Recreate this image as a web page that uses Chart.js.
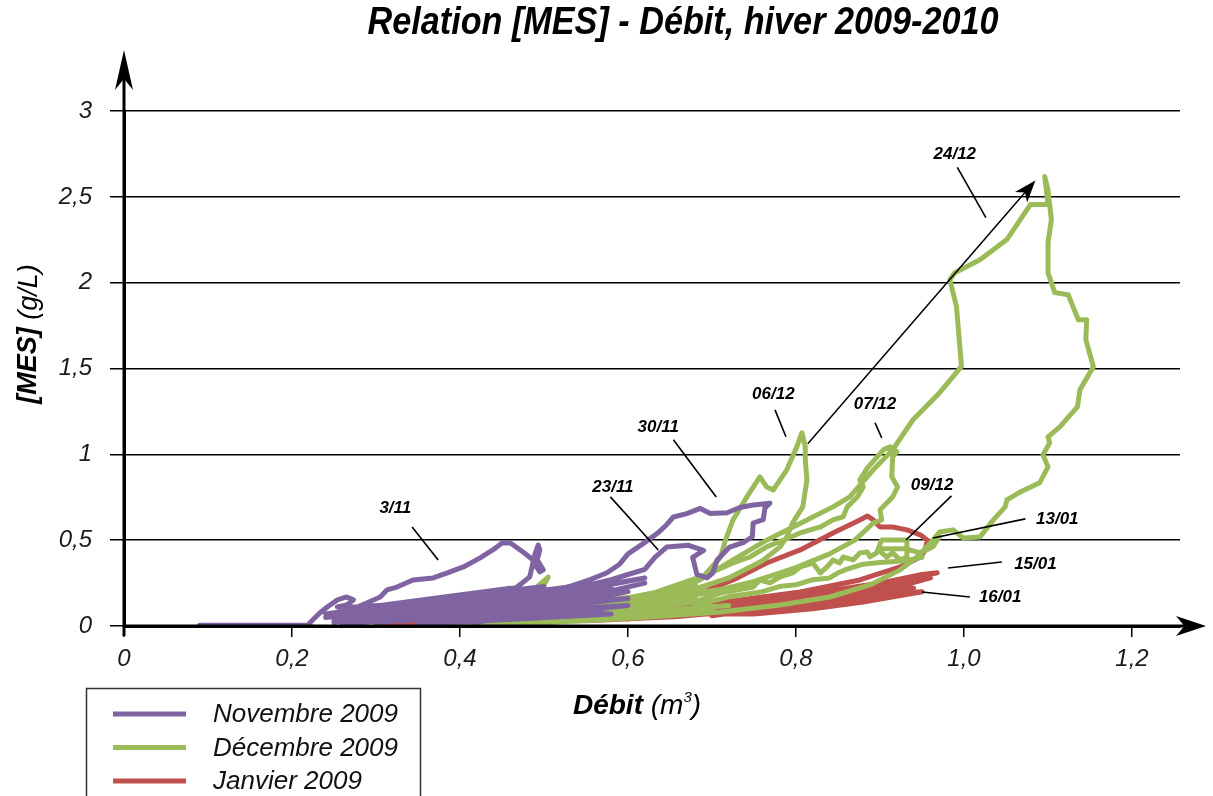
<!DOCTYPE html>
<html><head><meta charset="utf-8">
<script src="https://cdn.jsdelivr.net/npm/chart.js@4.4.0/dist/chart.umd.min.js"></script>
<style>html,body{margin:0;padding:0;background:#fff;overflow:hidden}</style>
</head><body>
<canvas id="c" width="1213" height="796"></canvas>
<script>
// ---------- tick labels ----------
const xTickValues = [0, 0.2, 0.4, 0.6, 0.8, 1.0, 1.2];
const xTickLabels = ['0', '0,2', '0,4', '0,6', '0,8', '1,0', '1,2'];
const yTickValues = [0, 0.5, 1, 1.5, 2, 2.5, 3];
const yTickLabels = ['0', '0,5', '1', '1,5', '2', '2,5', '3'];

// ---------- series ----------
const seriesNames = ['Novembre 2009', 'Décembre 2009', 'Janvier 2009'];
const seriesColors = ['#8064a2', '#9bbb59', '#c0504d'];

// Novembre 2009 : [débit, MES]
const novBase = [[0.09,0.004],[0.16,0.004],[0.222,0.006]];
const nov03 = [[0.221,0.017],[0.233,0.076],[0.242,0.111],[0.254,0.152],[0.265,0.169],[0.273,0.152],[0.265,0.122],[0.254,0.111],[0.269,0.093],[0.289,0.134],[0.305,0.169],[0.313,0.21],[0.325,0.227],[0.344,0.268],[0.368,0.28],[0.385,0.309],[0.404,0.344],[0.424,0.397],[0.439,0.443],[0.45,0.484],[0.46,0.484],[0.475,0.431],[0.487,0.385],[0.493,0.472],[0.495,0.443],[0.492,0.385],[0.499,0.327],[0.495,0.315],[0.487,0.373],[0.483,0.286],[0.468,0.227],[0.43,0.17],[0.38,0.12],[0.3,0.07],[0.25,0.03]];
const novBand = [[0.25,0.02],[0.5,0.2],[0.27,0.05],[0.52,0.16],[0.26,0.01],[0.55,0.13],[0.28,0.06],[0.56,0.18],[0.3,0.02],[0.5,0.1],[0.29,0.08],[0.53,0.22],[0.33,0.03],[0.57,0.1],[0.32,0.1],[0.48,0.2],[0.35,0.01],[0.58,0.07],[0.36,0.12],[0.55,0.24],[0.4,0.02],[0.6,0.12],[0.3,0.04],[0.45,0.17],[0.24,0.05],[0.38,0.14],[0.27,0.11],[0.42,0.02],[0.6,0.2],[0.45,0.06],[0.62,0.25]];
const novBand2 = [[0.24,0.07],[0.46,0.22],[0.26,0.09],[0.5,0.23],[0.31,0.12],[0.44,0.18],[0.28,0.1],[0.52,0.18],[0.34,0.05],[0.54,0.08],[0.37,0.04],[0.6,0.16],[0.4,0.08],[0.58,0.22],[0.43,0.12],[0.62,0.28],[0.47,0.14],[0.33,0.07],[0.25,0.06]];
const nov23_30 = [[0.45,0.15],[0.5,0.19],[0.53,0.23],[0.555,0.27],[0.575,0.31],[0.59,0.36],[0.6,0.42],[0.618,0.48],[0.635,0.54],[0.646,0.59],[0.654,0.635],[0.67,0.655],[0.686,0.685],[0.698,0.655],[0.718,0.66],[0.733,0.69],[0.749,0.705],[0.769,0.715],[0.763,0.688],[0.761,0.62],[0.749,0.6],[0.748,0.52],[0.737,0.485],[0.721,0.46],[0.706,0.385],[0.701,0.31],[0.694,0.28],[0.682,0.3],[0.677,0.4],[0.69,0.44],[0.672,0.47],[0.646,0.46],[0.632,0.4],[0.62,0.33],[0.6,0.3],[0.58,0.27],[0.555,0.24],[0.53,0.22],[0.5,0.18],[0.47,0.16]];

// Décembre 2009
const decBand = [[0.36,0.0],[0.62,0.1],[0.4,0.005],[0.66,0.15],[0.45,0.01],[0.7,0.2],[0.5,0.02],[0.72,0.12],[0.42,0.02],[0.6,0.14],[0.48,0.05],[0.68,0.24],[0.55,0.04],[0.7,0.1],[0.38,0.0],[0.56,0.08],[0.47,0.09],[0.64,0.19],[0.52,0.11]];
const decBand2 = [[0.4,0.0],[0.58,0.05],[0.44,0.02],[0.64,0.1],[0.5,0.04],[0.68,0.17],[0.53,0.09],[0.72,0.22],[0.58,0.12],[0.7,0.15],[0.46,0.03],[0.66,0.08],[0.52,0.03],[0.62,0.06],[0.48,0.01]];
const decSpike = [[0.47,0.17],[0.49,0.22],[0.505,0.285],[0.5,0.24],[0.48,0.2]];
const dec06 = [[0.55,0.07],[0.6,0.11],[0.65,0.19],[0.69,0.29],[0.71,0.4],[0.716,0.5],[0.725,0.618],[0.74,0.74],[0.757,0.869],[0.765,0.81],[0.773,0.793],[0.789,0.91],[0.801,1.044],[0.807,1.125],[0.811,1.044],[0.811,0.968],[0.813,0.851],[0.808,0.694],[0.796,0.601],[0.789,0.519],[0.781,0.461],[0.76,0.38],[0.72,0.28],[0.67,0.2],[0.6,0.12],[0.52,0.06]];
const dec07 = [[0.6,0.14],[0.686,0.286],[0.706,0.327],[0.725,0.367],[0.745,0.402],[0.765,0.461],[0.785,0.501],[0.805,0.542],[0.829,0.577],[0.844,0.618],[0.856,0.636],[0.861,0.694],[0.873,0.752],[0.88,0.81],[0.876,0.851],[0.885,0.921],[0.904,1.026],[0.912,1.044],[0.92,1.015],[0.915,0.985],[0.914,0.869],[0.921,0.81],[0.915,0.752],[0.908,0.717],[0.9,0.676],[0.902,0.618],[0.892,0.6],[0.87,0.5],[0.84,0.42],[0.8,0.34],[0.75,0.26],[0.7,0.2],[0.62,0.12]];
const dec24 = [[0.45,0.01],[0.55,0.06],[0.62,0.13],[0.686,0.27],[0.725,0.385],[0.765,0.5],[0.813,0.618],[0.844,0.694],[0.864,0.752],[0.892,0.91],[0.915,1.026],[0.939,1.2],[0.971,1.359],[0.997,1.512],[0.991,1.862],[0.983,2.017],[0.989,2.058],[1.019,2.134],[1.051,2.251],[1.079,2.455],[1.1,2.455],[1.096,2.618],[1.1,2.54],[1.104,2.367],[1.1,2.233],[1.1,2.058],[1.108,1.942],[1.124,1.93],[1.136,1.784],[1.146,1.784],[1.145,1.668],[1.154,1.51],[1.138,1.376],[1.135,1.277],[1.114,1.16],[1.1,1.102],[1.102,1.067],[1.094,0.997],[1.1,0.927],[1.09,0.834],[1.067,0.781],[1.051,0.735],[1.049,0.694],[1.035,0.618],[1.019,0.519],[0.999,0.513],[0.987,0.56],[0.971,0.548],[0.96,0.484],[0.944,0.402],[0.924,0.327],[0.888,0.239],[0.84,0.169],[0.781,0.122],[0.71,0.082],[0.626,0.052],[0.543,0.029],[0.448,0.012]];
const dec09 = [[0.62,0.1],[0.686,0.152],[0.71,0.192],[0.749,0.227],[0.757,0.268],[0.769,0.251],[0.781,0.286],[0.796,0.309],[0.805,0.344],[0.82,0.367],[0.829,0.309],[0.837,0.344],[0.844,0.385],[0.852,0.367],[0.856,0.402],[0.868,0.385],[0.876,0.426],[0.885,0.431],[0.888,0.402],[0.896,0.426],[0.902,0.501],[0.932,0.501],[0.932,0.402],[0.924,0.385],[0.915,0.426],[0.908,0.402],[0.902,0.426],[0.9,0.45],[0.93,0.45],[0.948,0.426],[0.963,0.461],[0.971,0.52]];
const dec09b = [[0.68,0.12],[0.72,0.17],[0.76,0.2],[0.78,0.23],[0.8,0.24],[0.82,0.27],[0.84,0.28],[0.85,0.31],[0.86,0.33],[0.88,0.36],[0.9,0.37],[0.93,0.38],[0.95,0.4]];

// Janvier 2009
const janLow = [[0.3,0.0],[0.42,0.05],[0.47,0.17],[0.5,0.19],[0.45,0.1],[0.36,0.02]];
const janLoop = [[0.45,0.02],[0.54,0.035],[0.62,0.11],[0.686,0.192],[0.725,0.268],[0.765,0.367],[0.805,0.443],[0.844,0.542],[0.876,0.618],[0.885,0.641],[0.892,0.618],[0.9,0.577],[0.915,0.577],[0.932,0.56],[0.948,0.531],[0.956,0.501],[0.954,0.443],[0.948,0.402],[0.924,0.344],[0.876,0.268],[0.805,0.198],[0.733,0.152],[0.662,0.111],[0.567,0.076],[0.471,0.047],[0.364,0.023]];
const janBand = [[0.6,0.04],[0.7,0.1],[0.8,0.16],[0.88,0.22],[0.94,0.28],[0.968,0.31],[0.95,0.3],[0.9,0.25],[0.82,0.19],[0.74,0.13],[0.68,0.09],[0.72,0.08],[0.8,0.12],[0.87,0.18],[0.93,0.24],[0.96,0.28],[0.92,0.23],[0.85,0.16],[0.78,0.11],[0.7,0.07],[0.75,0.07],[0.82,0.1],[0.88,0.14],[0.95,0.2],[0.9,0.18],[0.83,0.14],[0.76,0.1],[0.66,0.055],[0.55,0.03]];
const janBand2 = [[0.7,0.06],[0.8,0.13],[0.9,0.2],[0.96,0.3],[0.91,0.22],[0.83,0.17],[0.73,0.1],[0.79,0.09],[0.86,0.15],[0.94,0.22],[0.89,0.21],[0.8,0.15],[0.72,0.11],[0.64,0.06]];

// ---------- annotations (data coordinates) ----------
const notes = [
  {t:'3/11',  x:0.323, y:0.688, a:[0.343,0.577], b:[0.374,0.385]},
  {t:'23/11', x:0.582, y:0.81,  a:[0.579,0.752], b:[0.636,0.443]},
  {t:'30/11', x:0.636, y:1.155, a:[0.654,1.085], b:[0.705,0.752]},
  {t:'06/12', x:0.773, y:1.347, a:[0.775,1.259], b:[0.788,1.102]},
  {t:'07/12', x:0.894, y:1.289, a:[0.894,1.184], b:[0.902,1.096]},
  {t:'24/12', x:0.989, y:2.746, a:[0.992,2.671], b:[1.026,2.379]},
  {t:'09/12', x:0.962, y:0.822, a:[0.985,0.758], b:[0.931,0.501]},
  {t:'13/01', x:1.111, y:0.624, a:[1.073,0.624], b:[0.963,0.513]},
  {t:'15/01', x:1.085, y:0.362, a:[1.045,0.373], b:[0.981,0.338]},
  {t:'16/01', x:1.043, y:0.169, a:[1.007,0.169], b:[0.95,0.198]}
];
const bigArrow = {from:[0.814,1.061], to:[1.085,2.595]};

function joinPaths(paths) {
  const out = [];
  paths.forEach((p, i) => {
    if (i) out.push({x: null, y: null});
    p.forEach(([x, y]) => out.push({x, y}));
  });
  return out;
}

const FONT = "'Liberation Sans', Arial, sans-serif";

function arrowHead(ctx, tx, ty, ang, len, hw) {
  ctx.save();
  ctx.translate(tx, ty);
  ctx.rotate(ang);
  ctx.beginPath();
  ctx.moveTo(0, 0);
  ctx.lineTo(-len, hw);
  ctx.lineTo(-len * 0.72, 0);
  ctx.lineTo(-len, -hw);
  ctx.closePath();
  ctx.fill();
  ctx.restore();
}

const decorPlugin = {
  id: 'decor',
  afterDraw(chart) {
    const ctx = chart.ctx;
    const xs = chart.scales.x, ys = chart.scales.y;
    const ca = chart.chartArea;
    ctx.save();
    ctx.fillStyle = '#000';
    ctx.strokeStyle = '#000';

    // axis extensions + arrows
    ctx.lineWidth = 3;
    ctx.beginPath();
    ctx.moveTo(ca.left, ca.bottom + 10); ctx.lineTo(ca.left, 70);
    ctx.moveTo(ca.left - 1, ca.bottom); ctx.lineTo(1190, ca.bottom);
    ctx.stroke();
    arrowHead(ctx, ca.left, 50, -Math.PI / 2, 40, 9);
    arrowHead(ctx, 1206, ca.bottom, 0, 30, 10);

    // annotations
    ctx.lineWidth = 1.6;
    ctx.font = "italic bold 17px " + FONT;
    ctx.textAlign = 'center';
    ctx.textBaseline = 'middle';
    notes.forEach(n => {
      ctx.beginPath();
      ctx.moveTo(xs.getPixelForValue(n.a[0]), ys.getPixelForValue(n.a[1]));
      ctx.lineTo(xs.getPixelForValue(n.b[0]), ys.getPixelForValue(n.b[1]));
      ctx.stroke();
      ctx.fillText(n.t, xs.getPixelForValue(n.x), ys.getPixelForValue(n.y));
    });
    const ax0 = xs.getPixelForValue(bigArrow.from[0]), ay0 = ys.getPixelForValue(bigArrow.from[1]);
    const ax1 = xs.getPixelForValue(bigArrow.to[0]), ay1 = ys.getPixelForValue(bigArrow.to[1]);
    const ang = Math.atan2(ay1 - ay0, ax1 - ax0);
    ctx.lineWidth = 1.5;
    ctx.beginPath();
    ctx.moveTo(ax0, ay0);
    ctx.lineTo(ax1 - Math.cos(ang) * 12, ay1 - Math.sin(ang) * 12);
    ctx.stroke();
    arrowHead(ctx, ax1, ay1, ang, 22, 8);

    // title
    ctx.save();
    ctx.translate(683, 24);
    ctx.scale(0.9, 1);
    ctx.font = "italic bold 38px " + FONT;
    ctx.fillStyle = '#000';
    ctx.textAlign = 'center';
    ctx.textBaseline = 'middle';
    ctx.fillText('Relation [MES] - Débit, hiver 2009-2010', 0, 0);
    ctx.restore();

    // y axis title
    ctx.save();
    ctx.translate(29, 334);
    ctx.rotate(-Math.PI / 2);
    ctx.textBaseline = 'middle';
    ctx.textAlign = 'left';
    const fb = "italic bold 27px " + FONT, fi = "italic 27px " + FONT;
    ctx.font = fb; const w1 = ctx.measureText('[MES]').width;
    ctx.font = fi; const w2 = ctx.measureText(' (g/L)').width;
    let sx = -(w1 + w2) / 2;
    ctx.font = fb; ctx.fillText('[MES]', sx, 0);
    ctx.font = fi; ctx.fillText(' (g/L)', sx + w1, 0);
    ctx.restore();

    // x axis title
    ctx.save();
    ctx.textBaseline = 'middle';
    ctx.textAlign = 'left';
    const fb2 = "italic bold 28px " + FONT, fi2 = "italic 28px " + FONT;
    ctx.font = fb2; const d1 = ctx.measureText('Débit').width;
    ctx.font = fi2; const d2 = ctx.measureText(' (m').width;
    ctx.font = "italic 15px " + FONT; const d3 = ctx.measureText('3').width;
    ctx.font = fi2; const d4 = ctx.measureText(')').width;
    let px = 637 - (d1 + d2 + d3 + d4) / 2;
    const py = 706;
    ctx.font = fb2; ctx.fillText('Débit', px, py); px += d1;
    ctx.font = fi2; ctx.fillText(' (m', px, py); px += d2;
    ctx.font = "italic 15px " + FONT; ctx.fillText('3', px, py - 8); px += d3;
    ctx.font = fi2; ctx.fillText(')', px, py);
    ctx.restore();

    // legend
    ctx.lineWidth = 1.5;
    ctx.strokeStyle = '#333';
    ctx.strokeRect(86.5, 688.5, 334, 140);
    ctx.font = "italic 26px " + FONT;
    ctx.textAlign = 'left';
    ctx.textBaseline = 'middle';
    chart.data.datasets.forEach((ds, i) => {
      const ly = 714 + i * 33.5;
      ctx.strokeStyle = ds.borderColor;
      ctx.lineWidth = 5;
      ctx.beginPath(); ctx.moveTo(113, ly); ctx.lineTo(186, ly); ctx.stroke();
      ctx.fillStyle = '#111';
      ctx.fillText(ds.label, 213, ly + 1);
    });
    ctx.restore();
  }
};

new Chart(document.getElementById('c'), {
  type: 'scatter',
  data: {
    datasets: [
      {label: seriesNames[0], data: joinPaths([novBase, nov03, novBand, novBand2, nov23_30]), borderColor: seriesColors[0], backgroundColor: seriesColors[0]},
      {label: seriesNames[1], data: joinPaths([decBand, decBand2, decSpike, dec06, dec07, dec09, dec09b, dec24]), borderColor: seriesColors[1], backgroundColor: seriesColors[1]},
      {label: seriesNames[2], data: joinPaths([janLow, janLoop, janBand, janBand2]), borderColor: seriesColors[2], backgroundColor: seriesColors[2]}
    ].map(d => Object.assign(d, {showLine: true, spanGaps: false, pointRadius: 0, borderWidth: 5, tension: 0, borderJoinStyle: 'round', borderCapStyle: 'round'}))
  },
  options: {
    responsive: false,
    animation: false,
    devicePixelRatio: 1,
    layout: {padding: {top: 111, right: 33, left: 0, bottom: 0}},
    plugins: {legend: {display: false}, tooltip: {enabled: false}, title: {display: false}},
    scales: {
      x: {
        type: 'linear', min: 0, max: 1.2571, z: 1,
        afterFit(s) { s.height = 170; },
        afterBuildTicks(s) { s.ticks = xTickValues.map(v => ({value: v})); },
        ticks: {callback: (v, i) => xTickLabels[i], font: {family: FONT, size: 24, style: 'italic'}, color: '#1a1a1a', padding: 8, maxRotation: 0, autoSkip: false},
        grid: {drawOnChartArea: false, drawTicks: true, tickLength: 11, color: '#000', lineWidth: 1.5},
        border: {display: true, color: '#000', width: 3}
      },
      y: {
        type: 'linear', min: 0, max: 3, z: 1,
        afterFit(s) { s.width = 124; },
        afterBuildTicks(s) { s.ticks = yTickValues.map(v => ({value: v})); },
        ticks: {callback: (v, i) => yTickLabels[i], font: {family: FONT, size: 24, style: 'italic'}, color: '#1a1a1a', padding: 18, autoSkip: false},
        grid: {drawOnChartArea: true, drawTicks: true, tickLength: 14, color: '#000', lineWidth: 1.5},
        border: {display: true, color: '#000', width: 3}
      }
    }
  },
  plugins: [decorPlugin]
});
</script>
</body></html>
